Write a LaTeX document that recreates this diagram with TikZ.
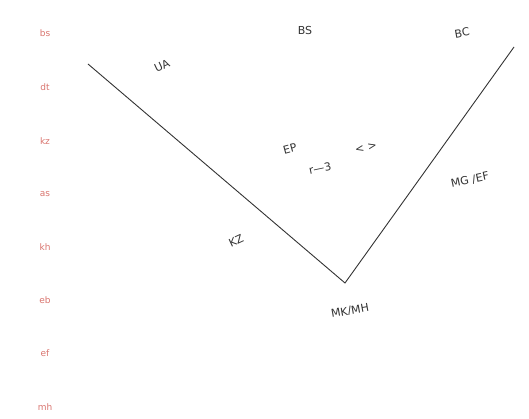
\documentclass[tikz,border=0pt]{standalone}
\usepackage{fontspec}
\setmainfont{DejaVu Sans}
\definecolor{keyred}{HTML}{D9756F}
\definecolor{ink}{HTML}{333333}
\begin{document}
\begin{tikzpicture}[x=1pt,y=-1pt,
  keylabel/.style={text=keyred,font=\fontsize{9}{10}\selectfont,inner sep=0pt},
  hand/.style={text=ink,font=\fontsize{11}{12}\selectfont,inner sep=0pt},
  stroke/.style={draw=ink,line width=0.9pt}]
\useasboundingbox (0,0) rectangle (529,419);
% key column
\node[keylabel] (k1) at (45,33) {bs};
\node[keylabel] (k2) at (45,87) {dt};
\node[keylabel] (k3) at (45,141) {kz};
\node[keylabel] (k4) at (45,194) {as};
\node[keylabel] (k5) at (45,247) {kh};
\node[keylabel] (k6) at (45,300) {eb};
\node[keylabel] (k7) at (45,353) {ef};
\node[keylabel] (k8) at (45,407) {mh};
% V shape
\coordinate (a) at (88,64);
\coordinate (v) at (345,283);
\coordinate (b) at (514,47);
\draw[stroke] (a) -- (v) -- (b);
% handwritten labels
\node[hand,rotate=25] (ua) at (162,66) {UA};
\node[hand] (bs) at (305,30) {BS};
\node[hand,rotate=10] (bc) at (462,33) {BC};
\node[hand,rotate=15] (ep) at (290,149) {EP};
\node[hand,rotate=12] (rz) at (320,168) {r—3};
\node[hand,rotate=12] (br) at (366,148) {<\,\,>};
\node[hand,rotate=25] (kz) at (236,241) {KZ};
\node[hand,rotate=12] (mg) at (470,180) {MG /EF};
\node[hand,rotate=10] (mk) at (350,311) {MK/MH};
\end{tikzpicture}
\end{document}
